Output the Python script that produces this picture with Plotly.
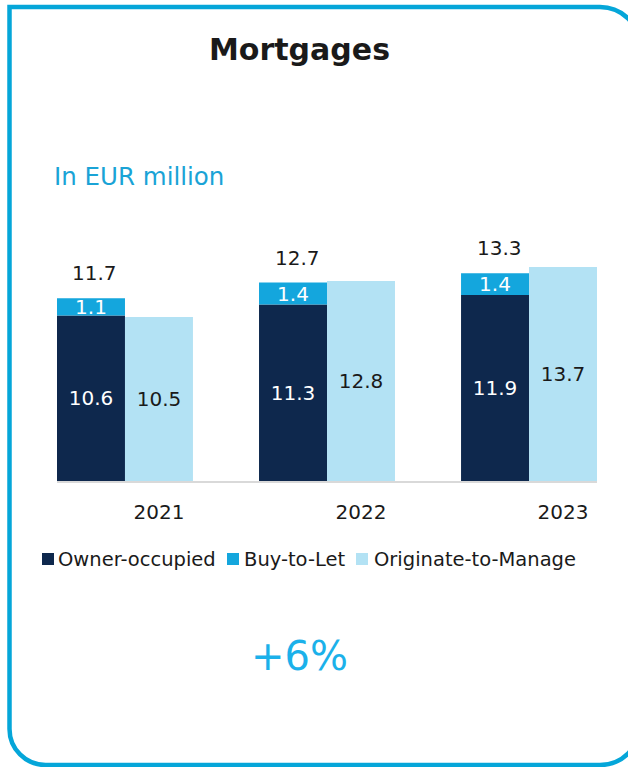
import plotly.graph_objects as go

# ---------------- data ----------------
years = ["2021", "2022", "2023"]
owner_occupied = [10.6, 11.3, 11.9]
buy_to_let = [1.1, 1.4, 1.4]
originate_to_manage = [10.5, 12.8, 13.7]
totals = [11.7, 12.7, 13.3]
series_names = ["Owner-occupied", "Buy-to-Let", "Originate-to-Manage"]
title_text = "Mortgages"
unit_text = "In EUR million"
growth_text = "+6%"

# ---------------- style ----------------
NAVY = "#0E284D"
MID = "#14A6DD"
LIGHT = "#B3E2F4"
FRAME = "#05A6D9"
TXT = "#1A1A1A"
FONT = "DejaVu Sans, Verdana, sans-serif"
series_colors = [NAVY, MID, LIGHT]

W, H = 628, 767
L = 57
R = W - 597
T = 231
B = H - 481
PW, PH = W - L - R, H - T - B


def fx(px):  # pixel -> paper
    return (px - L) / PW


def fy(py):
    return (H - B - py) / PH


xpos = list(range(len(years)))
half = 0.3365

fig = go.Figure()
fig.add_trace(go.Bar(
    x=xpos, y=owner_occupied, name=series_names[0], offsetgroup="a",
    marker=dict(color=NAVY, line=dict(width=0)),
    text=[f"{v:.1f}" for v in owner_occupied], textposition="inside",
    insidetextanchor="middle", constraintext="none",
    textfont=dict(color="white", size=20, family=FONT), showlegend=False,
))
fig.add_trace(go.Bar(
    x=xpos, y=buy_to_let, base=owner_occupied, name=series_names[1], offsetgroup="a",
    marker=dict(color=MID, line=dict(width=0)),
    text=[f"{v:.1f}" for v in buy_to_let], textposition="inside",
    insidetextanchor="middle", constraintext="none",
    textfont=dict(color="white", size=20, family=FONT), showlegend=False,
))
fig.add_trace(go.Bar(
    x=xpos, y=originate_to_manage, name=series_names[2], offsetgroup="b",
    marker=dict(color=LIGHT, line=dict(width=0)),
    text=[f"{v:.1f}" for v in originate_to_manage], textposition="inside",
    insidetextanchor="middle", constraintext="none",
    textfont=dict(color=TXT, size=20, family=FONT), showlegend=False,
))

annotations = []
# totals above the stacked bars
for i, tot in enumerate(totals):
    annotations.append(dict(
        x=xpos[i] - half / 2, y=tot, xref="x", yref="y", text=f"{tot:.1f}",
        showarrow=False, xanchor="center", yanchor="middle", xshift=4, yshift=25,
        font=dict(size=20, family=FONT, color=TXT)))

annotations += [
    dict(x=fx(299), y=fy(49), xref="paper", yref="paper", text=f"<b>{title_text}</b>",
         showarrow=False, xanchor="center", yanchor="middle",
         font=dict(size=30, family=FONT, color=TXT)),
    dict(x=fx(52), y=fy(176), xref="paper", yref="paper", text=unit_text,
         showarrow=False, xanchor="left", yanchor="middle",
         font=dict(size=24.5, family=FONT, color="#1AA3D6")),
    dict(x=fx(299), y=fy(656), xref="paper", yref="paper", text=growth_text,
         showarrow=False, xanchor="center", yanchor="middle",
         font=dict(size=40, family=FONT, color="#1BB1EA")),
]

shapes = []
# custom legend
legend_sq = [42, 227, 356]
legend_tx = [56, 242, 372]
LEG_Y = 559
for name, col, sx, tx in zip(series_names, series_colors, legend_sq, legend_tx):
    shapes.append(dict(type="rect", xref="paper", yref="paper",
                       x0=fx(sx), x1=fx(sx + 12), y0=fy(LEG_Y - 6), y1=fy(LEG_Y + 6),
                       fillcolor=col, line=dict(width=0)))
    annotations.append(dict(x=fx(tx), y=fy(LEG_Y), xref="paper", yref="paper", text=name,
                            showarrow=False, xanchor="left", yanchor="middle",
                            font=dict(size=19.5, family=FONT, color=TXT)))

# frame (square top-left corner, rounded elsewhere)
x0, y0, x1, y1, r = 9.5, 7, 640, 765, 40
k = 0.5523 * r
P = lambda px, py: f"{fx(px):.5f},{fy(py):.5f}"
path = (
    f"M{P(x0, y0)} L{P(x1 - r, y0)} "
    f"C{P(x1 - r + k, y0)} {P(x1, y0 + r - k)} {P(x1, y0 + r)} "
    f"L{P(x1, y1 - r)} "
    f"C{P(x1, y1 - r + k)} {P(x1 - r + k, y1)} {P(x1 - r, y1)} "
    f"L{P(x0 + 36, y1)} "
    f"C{P(x0 + 36 - 0.5523 * 36, y1)} {P(x0, y1 - 36 + 0.5523 * 36)} {P(x0, y1 - 36)} Z"
)
shapes.append(dict(type="path", xref="paper", yref="paper", path=path,
                   line=dict(color=FRAME, width=4.5), fillcolor="rgba(0,0,0,0)"))

fig.update_layout(
    template="none",
    width=W, height=H,
    margin=dict(l=L, r=R, t=T, b=B, pad=0),
    paper_bgcolor="white", plot_bgcolor="white",
    barmode="group", bargap=1 - 2 * half, bargroupgap=0,
    showlegend=False,
    xaxis=dict(range=[-half, len(years) - 1 + half], tickmode="array",
               tickvals=[p + half / 2 for p in xpos], ticktext=years,
               showline=True, linecolor="#D9D9D9", linewidth=2,
               ticks="outside", ticklen=12, tickcolor="rgba(0,0,0,0)",
               tickfont=dict(size=20, family=FONT, color=TXT),
               showgrid=False, zeroline=False, fixedrange=True),
    yaxis=dict(range=[0, 16], visible=False, showgrid=False, zeroline=False, fixedrange=True),
    annotations=annotations,
    shapes=shapes,
)

fig.write_html(
    "out.html",
    config={"displayModeBar": False},
    post_script="document.body.style.margin='0';document.body.style.overflow='hidden';",
)
